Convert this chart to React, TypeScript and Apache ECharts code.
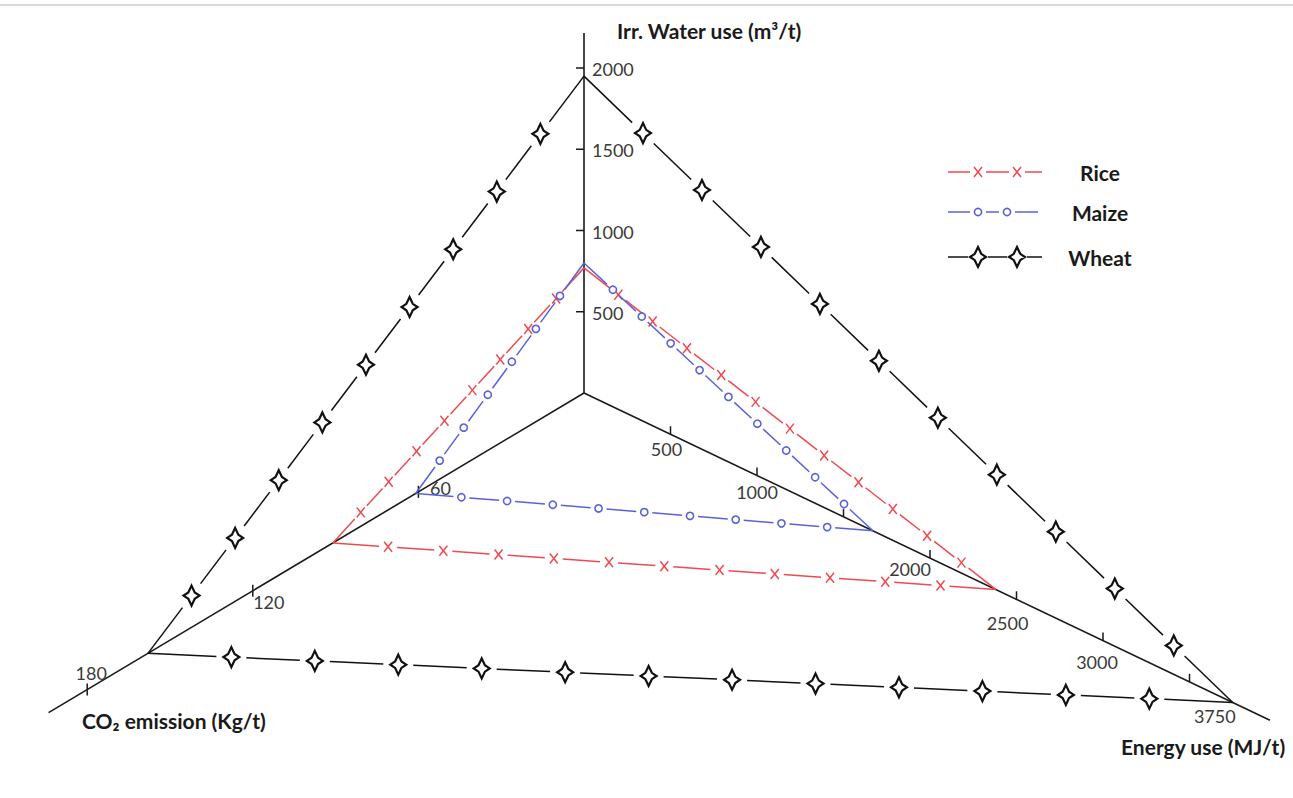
import React, { useEffect, useRef } from "react";
import * as echarts from "echarts";

// ---------------- data ----------------
const crops = ["Rice", "Maize", "Wheat"];
const waterUse = [770, 800, 1950]; // Irr. water use (m3/t)
const energyUse = [2380, 1670, 3750]; // Energy use (MJ/t)
const co2Emission = [91, 61, 158]; // CO2 emission (kg/t)

const waterTicks = [500, 1000, 1500, 2000];
const energyTicks = [500, 1000, 1500, 2000, 2500, 3000, 3500];
const energyLabelValues = [500, 1000, 2000, 2500, 3000, 3750];
const co2Ticks = [60, 120, 180];

const axisNames = {
  water: "Irr. Water use (m³/t)",
  energy: "Energy use (MJ/t)",
  co2: "CO₂ emission (Kg/t)",
};

// ---------------- layout / style ----------------
const W = 1293;
const H = 798;
const ORIGIN = [584, 393];
const GEOM: Record<string, { unit: number[]; extent: number }> = {
  water: { unit: [0, -0.1625], extent: 2215 },
  energy: { unit: [0.173, 0.173 * 0.477], extent: 3965 },
  co2: { unit: [-2.76, 2.76 * 0.597], extent: 194 },
};
const AXIS_KEYS = ["water", "energy", "co2"];
const CO2_LABEL_OFFSETS = [
  [22, -4],
  [16, 11],
  [4, -17],
];
const ENERGY_LABEL_OFFSETS = [
  [-4, 15],
  [0, 16],
  [-20, 11],
  [-9, 24],
  [-6, 21],
  [-18, 14],
];
const FONT = "Lato, 'Open Sans', sans-serif";
const AXIS_COLOR = "#1a1a1a";
const TEXT_COLOR = "#3a3a3a";
const TICK_FONT = `18px ${FONT}`;
const NAME_FONT = `bold 21px ${FONT}`;

const CROP_STYLE: Record<string, any> = {
  Rice: { color: "#ee4a52", marker: "cross", gap: 9, counts: [11, 11, 8] },
  Maize: { color: "#5a62d8", marker: "circle", gap: 8, counts: [9, 9, 6] },
  Wheat: { color: "#111111", marker: "star", gap: 15, counts: [10, 12, 9] },
};

const STAR = [
  [0, -10],
  [3.2, -3.2],
  [8, 0],
  [3.2, 3.2],
  [0, 10],
  [-3.2, 3.2],
  [-8, 0],
  [-3.2, -3.2],
];

function project(key: string, v: number) {
  const g = GEOM[key];
  return [ORIGIN[0] + v * g.unit[0], ORIGIN[1] + v * g.unit[1]];
}

function markerEls(kind: string, x: number, y: number, color: string) {
  if (kind === "cross") {
    return [
      { type: "line", shape: { x1: x - 4, y1: y - 5, x2: x + 4, y2: y + 5 }, style: { stroke: color, lineWidth: 1.5 } },
      { type: "line", shape: { x1: x - 4, y1: y + 5, x2: x + 4, y2: y - 5 }, style: { stroke: color, lineWidth: 1.5 } },
    ];
  }
  if (kind === "circle") {
    return [{ type: "circle", shape: { cx: x, cy: y, r: 3.6 }, style: { fill: "#fff", stroke: color, lineWidth: 1.6 } }];
  }
  return [
    {
      type: "polygon",
      shape: { points: STAR.map(([a, b]) => [x + a, y + b]) },
      style: { fill: "#fff", stroke: color, lineWidth: 2.2, lineJoin: "miter" },
    },
  ];
}

function edgeEls(a: number[], b: number[], n: number, st: any) {
  const lines: any[] = [];
  const marks: any[] = [];
  const dx = b[0] - a[0];
  const dy = b[1] - a[1];
  const len = Math.hypot(dx, dy);
  const ux = dx / len;
  const uy = dy / len;
  const pts: number[][] = [];
  for (let k = 0; k <= n + 1; k++) {
    const t = k / (n + 1);
    pts.push([a[0] + dx * t, a[1] + dy * t]);
  }
  for (let k = 0; k <= n; k++) {
    const p = pts[k];
    const q = pts[k + 1];
    const s = k === 0 ? 0 : st.gap;
    const e = k === n ? 0 : st.gap;
    lines.push({
      type: "line",
      shape: { x1: p[0] + ux * s, y1: p[1] + uy * s, x2: q[0] - ux * e, y2: q[1] - uy * e },
      style: { stroke: st.color, lineWidth: 1.5 },
    });
  }
  for (let k = 1; k <= n; k++) marks.push(...markerEls(st.marker, pts[k][0], pts[k][1], st.color));
  return { lines, marks };
}

function legendEls(name: string, y: number) {
  const st = CROP_STYLE[name];
  const xs = name === "Maize" ? [948, 978, 1007, 1038] : [948, 978, 1017, 1042];
  const g = name === "Wheat" ? 10 : 8;
  const els: any[] = [];
  els.push({ type: "line", shape: { x1: xs[0], y1: y, x2: xs[1] - g, y2: y }, style: { stroke: st.color, lineWidth: 1.5 } });
  els.push({ type: "line", shape: { x1: xs[1] + g, y1: y, x2: xs[2] - g, y2: y }, style: { stroke: st.color, lineWidth: 1.5 } });
  els.push({ type: "line", shape: { x1: xs[2] + g, y1: y, x2: xs[3], y2: y }, style: { stroke: st.color, lineWidth: 1.5 } });
  els.push(...markerEls(st.marker, xs[1], y, st.color));
  els.push(...markerEls(st.marker, xs[2], y, st.color));
  els.push({
    type: "text",
    x: 1100,
    y: y,
    style: { text: name, fill: "#1a1a1a", font: `bold 21px ${FONT}`, align: "center", verticalAlign: "middle" },
  });
  return els;
}

export default function App() {
  const ref = useRef<HTMLDivElement>(null);
  useEffect(() => {
    if (!ref.current) return;
    const chart = echarts.init(ref.current, null, { renderer: "svg" });

    const axisSeries = {
      type: "custom",
      name: "axes",
      z: 1,
      data: AXIS_KEYS.map((k, i) => [i, 0]),
      renderItem: (params: any, api: any) => {
        const key = AXIS_KEYS[api.value(0)];
        const p0 = api.coord(project(key, 0));
        const p1 = api.coord(project(key, GEOM[key].extent));
        return {
          type: "line",
          shape: { x1: p0[0], y1: p0[1], x2: p1[0], y2: p1[1] },
          style: { stroke: AXIS_COLOR, lineWidth: 1.6 },
        };
      },
    };

    const waterTickSeries = {
      type: "custom",
      name: "waterTicks",
      z: 2,
      data: waterTicks.map((v) => [v, 0]),
      renderItem: (params: any, api: any) => {
        const v = api.value(0);
        const p = api.coord(project("water", v));
        return {
          type: "group",
          children: [
            { type: "line", shape: { x1: p[0] - 8, y1: p[1], x2: p[0], y2: p[1] }, style: { stroke: AXIS_COLOR, lineWidth: 1.5 } },
            {
              type: "text",
              x: p[0] + 8,
              y: p[1] + 1,
              style: { text: String(v), fill: TEXT_COLOR, font: TICK_FONT, align: "left", verticalAlign: "middle" },
            },
          ],
        };
      },
    };

    const energyTickSeries = {
      type: "custom",
      name: "energyTicks",
      z: 2,
      data: energyTicks.map((v) => [v, 0]),
      renderItem: (params: any, api: any) => {
        const p = api.coord(project("energy", api.value(0)));
        return { type: "line", shape: { x1: p[0], y1: p[1] - 8, x2: p[0], y2: p[1] }, style: { stroke: AXIS_COLOR, lineWidth: 1.5 } };
      },
    };

    const energyLabelSeries = {
      type: "custom",
      name: "energyLabels",
      z: 2,
      data: energyLabelValues.map((v) => [v, 0]),
      renderItem: (params: any, api: any) => {
        const v = api.value(0);
        const p = api.coord(project("energy", v));
        const off = ENERGY_LABEL_OFFSETS[params.dataIndex];
        return {
          type: "text",
          x: p[0] + off[0],
          y: p[1] + off[1],
          style: { text: String(v), fill: TEXT_COLOR, font: TICK_FONT, align: "center", verticalAlign: "middle" },
        };
      },
    };

    const co2TickSeries = {
      type: "custom",
      name: "co2Ticks",
      z: 2,
      data: co2Ticks.map((v) => [v, 0]),
      renderItem: (params: any, api: any) => {
        const v = api.value(0);
        const p = api.coord(project("co2", v));
        const off = CO2_LABEL_OFFSETS[params.dataIndex];
        return {
          type: "group",
          children: [
            { type: "line", shape: { x1: p[0], y1: p[1] - 6, x2: p[0], y2: p[1] + 6 }, style: { stroke: AXIS_COLOR, lineWidth: 1.5 } },
            {
              type: "text",
              x: p[0] + off[0],
              y: p[1] + off[1],
              style: { text: String(v), fill: TEXT_COLOR, font: TICK_FONT, align: "center", verticalAlign: "middle" },
            },
          ],
        };
      },
    };

    const cropSeries = crops.map((name, i) => ({
      type: "custom",
      name,
      z: 5 + i,
      data: [[waterUse[i], energyUse[i], co2Emission[i]]],
      renderItem: (params: any, api: any) => {
        const st = CROP_STYLE[name];
        const pw = api.coord(project("water", api.value(0)));
        const pe = api.coord(project("energy", api.value(1)));
        const pc = api.coord(project("co2", api.value(2)));
        const verts = [pw, pe, pc];
        const lines: any[] = [];
        const marks: any[] = [];
        for (let k = 0; k < 3; k++) {
          const r = edgeEls(verts[k], verts[(k + 1) % 3], st.counts[k], st);
          lines.push(...r.lines);
          marks.push(...r.marks);
        }
        return { type: "group", children: [...lines, ...marks] };
      },
    }));

    const option = {
      animation: false,
      backgroundColor: "#ffffff",
      grid: { left: 0, right: 0, top: 0, bottom: 0 },
      xAxis: { type: "value", min: 0, max: W, show: false },
      yAxis: { type: "value", min: 0, max: H, inverse: true, show: false },
      series: [axisSeries, waterTickSeries, energyTickSeries, energyLabelSeries, co2TickSeries, ...cropSeries],
      graphic: [
        {
          type: "line",
          shape: { x1: 0, y1: 5, x2: W, y2: 5 },
          style: { stroke: "#d8d8d8", lineWidth: 2 },
        },
        {
          type: "text",
          left: 617,
          top: 20,
          style: { text: axisNames.water, fill: "#1a1a1a", font: NAME_FONT },
        },
        {
          type: "text",
          left: 1121,
          top: 736,
          style: { text: axisNames.energy, fill: "#1a1a1a", font: NAME_FONT },
        },
        {
          type: "text",
          left: 82,
          top: 710,
          style: { text: axisNames.co2, fill: "#1a1a1a", font: NAME_FONT },
        },
        ...legendEls("Rice", 172),
        ...legendEls("Maize", 212),
        ...legendEls("Wheat", 257),
      ],
    };
    chart.setOption(option as any);
    return () => chart.dispose();
  }, []);

  return (
    <div
      ref={ref}
      style={{ position: "absolute", left: 0, top: 0, width: W, height: H, background: "#fff" }}
    />
  );
}
